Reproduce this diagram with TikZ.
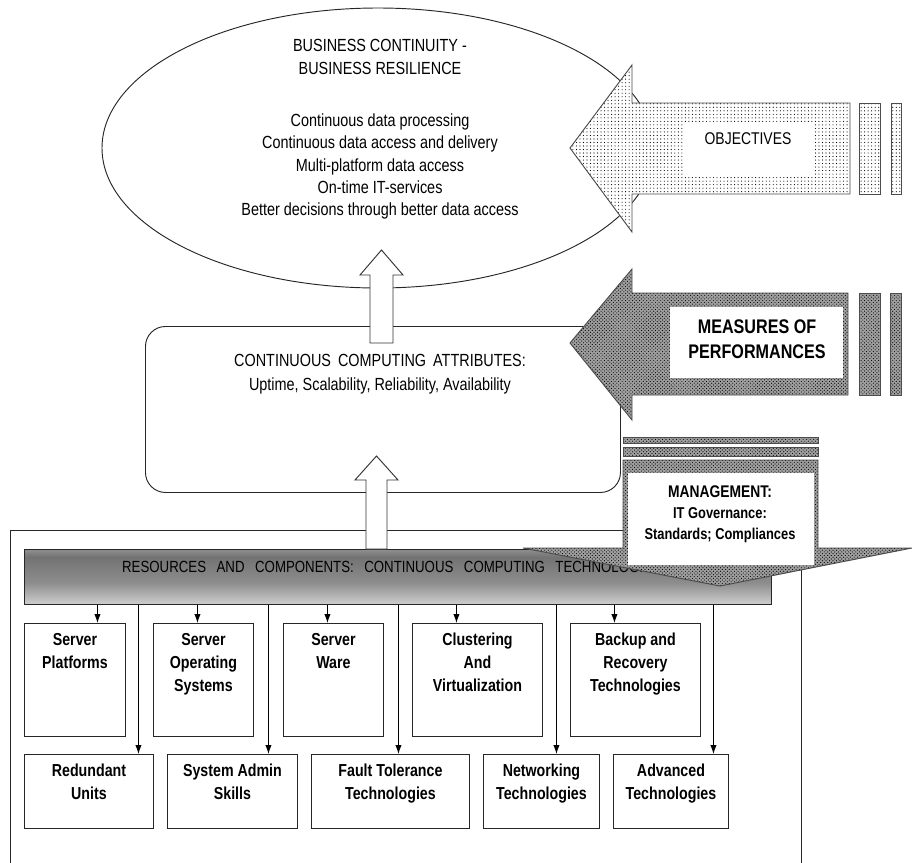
\documentclass[tikz,border=0pt]{standalone}
\usepackage{fontspec}
\setmainfont[FakeStretch=0.82]{Liberation Sans}
\usetikzlibrary{shapes.geometric,patterns,positioning,arrows.meta}
\newlength\pxu
\setlength\pxu{0.03cm}
\pgfdeclareverticalshading{barshade}{100bp}{color(0bp)=(white); color(18bp)=(gray!20); color(45bp)=(black!45); color(68bp)=(black!55); color(86bp)=(gray!55); color(100bp)=(gray!40)}
\tikzset{
  outline/.style={draw=black!85, line width=0.8pt},
  tbox/.style 2 args={outline, anchor=north west, minimum width=#1*\pxu, minimum height=#2*\pxu, inner sep=0pt},
  btxt/.style={anchor=north, yshift=-6*\pxu, align=center, font=\fontsize{14.8}{19.6}\selectfont\bfseries},
  arr/.style={line width=0.8pt, -{Latex[length=2.7mm,width=1.9mm]}},
  fatarrow/.style={draw=black!80, line width=0.8pt, fill=white},
  dotfill/.style={draw=black!70, line width=0.8pt, preaction={fill=white}, pattern=dots},
  checkfill/.style={draw=black!70, line width=0.8pt, preaction={fill=gray!75}, pattern=crosshatch dots, pattern color=black}
}

\begin{document}
\begin{tikzpicture}[x=0.03cm,y=-0.03cm]
    \useasboundingbox (0,0) rectangle (912,863);
    % goal ellipse
    \node[ellipse, outline, minimum width=552*\pxu, minimum height=280*\pxu, inner sep=0pt] (goal) at (378,148) {};
    \node[font=\fontsize{15}{19.6}\selectfont, align=center] (goalhead) at (380,56.5) {BUSINESS CONTINUITY -\\BUSINESS RESILIENCE};
    \node[font=\fontsize{15}{19}\selectfont, align=center] (goallist) at (380,166.5) {Continuous data processing\\Continuous data access and delivery\\Multi-platform data access\\On-time IT-services\\Better decisions through better data access};

    % attributes
    \node[outline, rounded corners=0.6cm, anchor=north west, minimum width=475*\pxu, minimum height=166*\pxu] (attr) at (145,326) {};
    \node[align=center, font=\fontsize{15}{20.5}\selectfont] (attrtxt) at (380,374) {CONTINUOUS\hspace{0.4em}COMPUTING\hspace{0.4em}ATTRIBUTES:\\Uptime, Scalability, Reliability, Availability};

    % resources frame and bar
    \node[outline, anchor=north west, minimum width=791*\pxu, minimum height=340*\pxu] (frame) at (10,530) {};
    \node[outline, anchor=north west, minimum width=747*\pxu, minimum height=55*\pxu, shade, shading=barshade] (res) at (24,549) {};
    \node[anchor=west, font=\fontsize{13.8}{16}\selectfont] (restxt) at (118,567) {RESOURCES\hspace{0.65em}AND\hspace{0.65em}COMPONENTS:\hspace{0.65em}CONTINUOUS\hspace{0.65em}COMPUTING\hspace{0.65em}TECHNOLOGIES};

    % components
    \node[tbox={101}{113}, label={[btxt]north:{Server\\Platforms}}] (splat) at (24,623) {};
    \node[tbox={100}{113}, label={[btxt]north:{Server\\Operating\\Systems}}] (sos) at (153,623) {};
    \node[tbox={100}{113}, label={[btxt]north:{Server\\Ware}}] (sware) at (283,623) {};
    \node[tbox={130}{113}, label={[btxt]north:{Clustering\\And\\Virtualization}}] (clus) at (412,623) {};
    \node[tbox={130}{113}, label={[btxt]north:{Backup and\\Recovery\\Technologies}}] (backup) at (570,623) {};
    \node[tbox={129}{74}, label={[btxt]north:{Redundant\\Units}}] (redund) at (24,754) {};
    \node[tbox={130}{74}, label={[btxt]north:{System Admin\\Skills}}] (admin) at (167,754) {};
    \node[tbox={158}{74}, label={[btxt]north:{Fault Tolerance\\Technologies}}] (fault) at (311,754) {};
    \node[tbox={116}{74}, label={[btxt]north:{Networking\\Technologies}}] (net) at (483,754) {};
    \node[tbox={115}{74}, label={[btxt]north:{Advanced\\Technologies}}] (adv) at (613,754) {};

    \draw[arr] ([xshift=22.5*\pxu]splat.north |- res.south) -- ([xshift=22.5*\pxu]splat.north);
    \draw[arr] ([xshift=-6*\pxu]sos.north |- res.south) -- ([xshift=-6*\pxu]sos.north);
    \draw[arr] ([xshift=-6*\pxu]sware.north |- res.south) -- ([xshift=-6*\pxu]sware.north);
    \draw[arr] ([xshift=-21*\pxu]clus.north |- res.south) -- ([xshift=-21*\pxu]clus.north);
    \draw[arr] ([xshift=-21*\pxu]backup.north |- res.south) -- ([xshift=-21*\pxu]backup.north);
    \draw[arr] ([xshift=49.5*\pxu]redund.north |- res.south) -- ([xshift=49.5*\pxu]redund.north);
    \draw[arr] ([xshift=36*\pxu]admin.north |- res.south) -- ([xshift=36*\pxu]admin.north);
    \draw[arr] ([xshift=8*\pxu]fault.north |- res.south) -- ([xshift=8*\pxu]fault.north);
    \draw[arr] ([xshift=15*\pxu]net.north |- res.south) -- ([xshift=15*\pxu]net.north);
    \draw[arr] ([xshift=42.5*\pxu]adv.north |- res.south) -- ([xshift=42.5*\pxu]adv.north);

    % fat up arrows
    \draw[fatarrow] (370,343) -- (370,275) -- (360,275) -- (381.5,250) -- (403,275) -- (393,275) -- (393,343) -- cycle;
    \draw[fatarrow] (366,549) -- (366,480) -- (355,480) -- (376.5,456) -- (398,480) -- (387,480) -- (387,549) -- cycle;

    % objectives
    \draw[dotfill] (570,148) -- (632,65) -- (632,103) -- (850,103) -- (850,194) -- (632,194) -- (632,232) -- cycle;
    \draw[dotfill] (859,103) rectangle (880,194);
    \draw[dotfill] (891,103) rectangle (901,194);
    \fill[white] (683,122) rectangle (813,175);
    \node[font=\fontsize{14.5}{17}\selectfont] (objtxt) at (748,139) {OBJECTIVES};

    % measures of performances
    \draw[checkfill] (570,343) -- (632,269) -- (632,293) -- (848,293) -- (848,395) -- (632,395) -- (632,420) -- cycle;
    \draw[checkfill] (859,293) rectangle (880,395);
    \draw[checkfill] (890,293) rectangle (901,395);
    \fill[white] (670,307) rectangle (843,378);
    \node[align=center, font=\fontsize{16.8}{21.3}\selectfont\bfseries] (mop) at (757,339.5) {MEASURES OF\\PERFORMANCES};

    % management
    \draw[checkfill] (623,437) rectangle (818,443);
    \draw[checkfill] (623,447) rectangle (818,456);
    \draw[checkfill] (623,460) -- (818,460) -- (818,548) -- (912,548) -- (720,586) -- (523,548) -- (623,548) -- cycle;
    \fill[white] (628,473) rectangle (814,565);
    \node[align=center, font=\fontsize{13.4}{18}\selectfont\bfseries] (mgmt) at (720,514) {{\fontsize{14.4}{18}\selectfont MANAGEMENT:}\\IT Governance:\\Standards; Compliances};
\end{tikzpicture}
\end{document}
